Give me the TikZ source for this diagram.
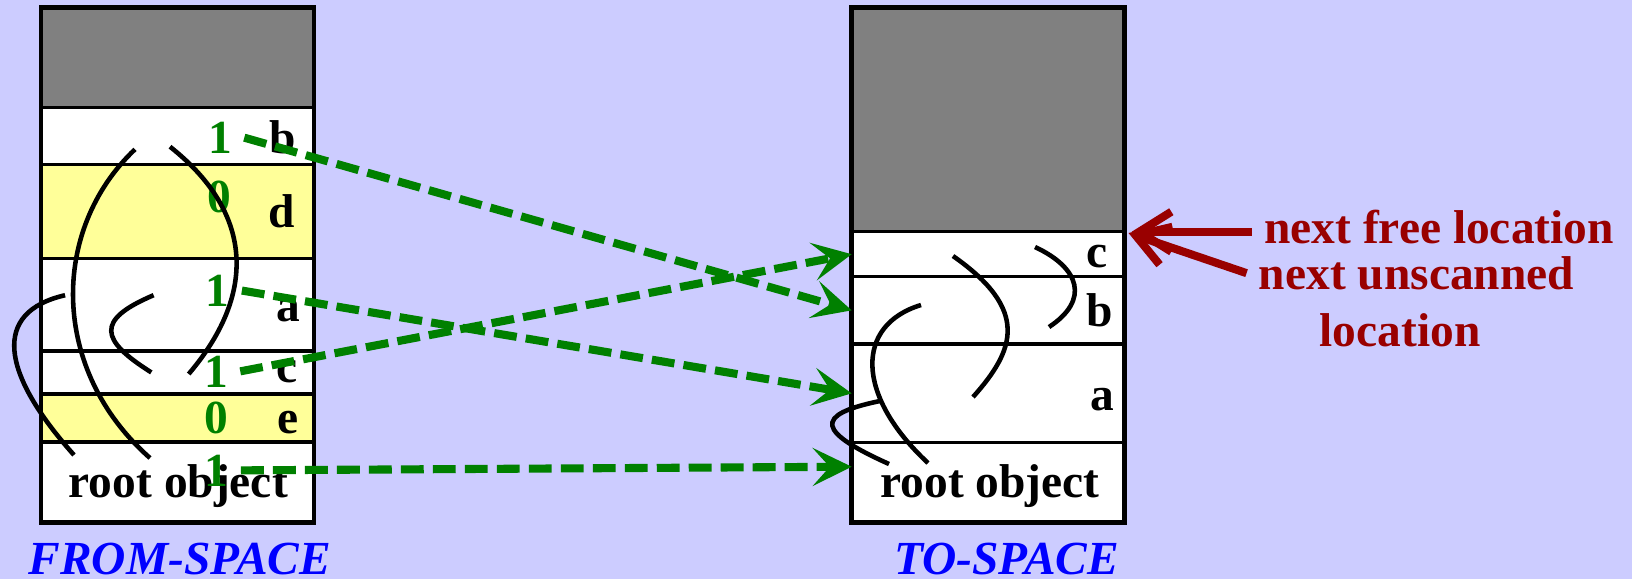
\documentclass[tikz,border=0pt]{standalone}
\usepackage{fontspec}
\setmainfont{Liberation Serif}
\usepackage{xcolor}
\usepackage{tikz}
\usetikzlibrary{arrows.meta, positioning}

\definecolor{bglav}{HTML}{CCCCFF}
\definecolor{heapgray}{HTML}{808080}
\definecolor{paleyellow}{HTML}{FFFF99}
\definecolor{fwdgreen}{HTML}{008000}
\definecolor{darkred}{HTML}{990000}
\definecolor{spaceblue}{HTML}{0000FF}

\begin{document}
\begin{tikzpicture}[
    font=\fontsize{13.5}{16.2}\selectfont\bfseries,
    cell/.style={draw, line width=0.9pt, fill=white, minimum width=2.73cm, inner sep=0pt, outer sep=0pt},
    bitlbl/.style={anchor=base, text=fwdgreen},
    objlbl/.style={anchor=base},
    link/.style={line width=1.3pt},
    fwd/.style={fwdgreen, line width=2.3pt, dash pattern=on 6.5pt off 2.6pt,
        -{Stealth[length=0.39cm, width=0.38cm, inset=0.17cm]}},
    ptr/.style={darkred, line width=2.3pt, -{Straight Barb[length=0.32cm, width=0.4cm].}}
]
    % 1. Nen
    \fill[bglav] (0,0) rectangle (16.32,5.79);
    \useasboundingbox (0,0) rectangle (16.32,5.79);

    % 2. FROM-SPACE
    \node[cell, fill=heapgray, minimum height=1.0cm, anchor=north west] (fgray) at (0.41,5.717) {};
    \node[cell, minimum height=0.57cm, below=0pt of fgray] (fb) {};
    \node[cell, fill=paleyellow, minimum height=0.941cm, below=0pt of fb] (fd) {};
    \node[cell, minimum height=0.926cm, below=0pt of fd] (fa) {};
    \node[cell, minimum height=0.43cm, below=0pt of fa] (fc) {};
    \node[cell, fill=paleyellow, minimum height=0.48cm, below=0pt of fc] (fe) {};
    \node[cell, minimum height=0.807cm, below=0pt of fe] (froot) {};
    \draw[line width=1.4pt] (fgray.north west) rectangle (froot.south east);

    \node[objlbl] (fbl) at (2.83,4.26) {b};
    \node[objlbl] (fdl) at (2.815,3.52) {d};
    \node[objlbl] (fal) at (2.88,2.58) {a};
    \node[objlbl] (fcl) at (2.87,1.963) {c};
    \node[objlbl] (fel) at (2.88,1.46) {e};
    \node[objlbl] (frootl) at (1.783,0.82) {root object};

    \node[bitlbl] (fbbit) at (2.20,4.257) {1};
    \node[bitlbl] (fdbit) at (2.19,3.67) {0};
    \node[bitlbl] (fabit) at (2.176,2.728) {1};
    \node[bitlbl] (fcbit) at (2.16,1.92) {1};
    \node[bitlbl] (febit) at (2.167,1.457) {0};
    \node[bitlbl] (frootbit) at (2.167,0.93) {1};

    \node[anchor=base, text=spaceblue] (fromlbl) at (1.798,0.05) {\itshape FROM-SPACE};

    % 3. TO-SPACE
    \node[cell, fill=heapgray, minimum height=2.244cm, anchor=north west] (tgray) at (8.517,5.717) {};
    \node[cell, minimum height=0.45cm, below=0pt of tgray] (tc) {};
    \node[cell, minimum height=0.673cm, below=0pt of tc] (tb) {};
    \node[cell, minimum height=0.987cm, below=0pt of tb] (ta) {};
    \node[cell, minimum height=0.80cm, below=0pt of ta] (troot) {};
    \draw[line width=1.4pt] (tgray.north west) rectangle (troot.south east);

    \node[objlbl] (tcl) at (10.967,3.117) {c};
    \node[objlbl] (tbl) at (11.0,2.523) {b};
    \node[objlbl] (tal) at (11.02,1.69) {a};
    \node[objlbl] (trootl) at (9.90,0.817) {root object};

    \node[anchor=base, text=spaceblue] (tolbl) at (10.065,0.05) {\itshape TO-SPACE};

    % 4. Con tro trong FROM-SPACE
    \draw[link] (1.35,4.297) .. controls (0.5,3.49) and (0.5,2.09) .. (1.5,1.21);
    \draw[link] (1.70,4.323) .. controls (2.5,3.69) and (2.6,2.89) .. (1.887,2.05);
    \draw[link] (1.536,2.838) .. controls (0.95,2.59) and (1.0,2.39) .. (1.513,2.066);
    \draw[link] (0.651,2.838) .. controls (-0.08,2.67) and (0,2.07) .. (0.74,1.24);

    % 5. Con tro trong TO-SPACE
    \draw[link] (9.53,3.23) .. controls (10.3,2.69) and (10.15,2.29) .. (9.73,1.82);
    \draw[link] (10.35,3.32) .. controls (10.8,3.11) and (10.9,2.79) .. (10.49,2.52);
    \draw[link] (9.21,2.74) .. controls (8.55,2.54) and (8.55,1.84) .. (9.28,1.16);
    \draw[link] (8.80,1.78) .. controls (8.12,1.64) and (8.18,1.47) .. (8.89,1.15);

    % 6. Sao chep (forwarding)
    \draw[fwd] (fbbit.east) -- (tb.west);
    \draw[fwd] (fabit.east) -- (ta.west);
    \draw[fwd] (fcbit.east) -- (tc.west);
    \draw[fwd] (frootbit.east) -- ([yshift=0.16cm]troot.west);

    % 7. Hai con tro vi tri
    \node[anchor=base, text=darkred] (nfree) at (14.39,3.357) {next free location};
    \node[anchor=base, text=darkred] (nunsc) at (14.165,2.897) {next unscanned};
    \node[anchor=base, text=darkred] (nloc) at (14.0,2.323) {location};
    \draw[ptr, shorten >=0.07cm] (tc.north east -| nfree.west) -- (tc.north east);
    \draw[ptr, shorten >=0.04cm] (nunsc.west) -- (tc.north east);
\end{tikzpicture}
\end{document}
